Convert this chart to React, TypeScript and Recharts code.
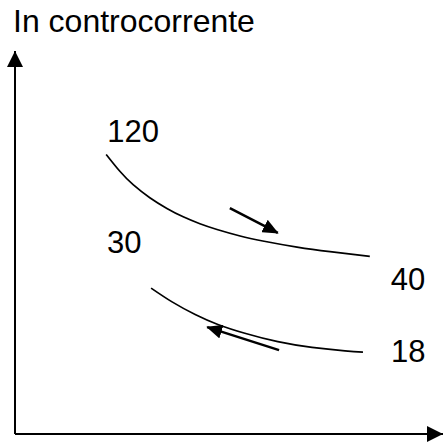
import React from "react";
import { LineChart, Line, XAxis, YAxis, LabelList } from "recharts";

// positions along the exchanger (0-100) and relative temperature (0-100)
const hotX = [21.3, 24.5, 27.6, 31.5, 35.5, 39.3, 43.2, 47.2, 52.6, 57.9, 65.9, 73.6, 82.9];
const hotY = [73.0, 68.6, 65.1, 61.7, 58.9, 56.7, 54.9, 53.4, 51.7, 50.4, 48.8, 47.6, 46.4];
const coldX = [31.8, 36.7, 42.1, 47.4, 53.7, 61.4, 69.4, 77.1, 81.3];
const coldY = [38.1, 34.5, 31.2, 28.6, 26.3, 24.1, 22.6, 21.7, 21.4];

// flow direction arrows (tail -> tip)
const hotArrowX = [50.2, 61.4];
const hotArrowY = [59.0, 52.5];
const coldArrowX = [61.7, 44.9];
const coldArrowY = [21.9, 27.9];

// inlet / outlet temperatures
const hotLabels = ["120", "40"];
const coldLabels = ["30", "18"];

const FONT = "'Liberation Sans', Arial, sans-serif";

function toSeries(xs: number[], ys: number[], labels?: string[]) {
  const last = xs.length - 1;
  return xs.map((x, i) => ({
    x,
    y: ys[i],
    label: labels ? (i === 0 ? labels[0] : i === last ? labels[1] : undefined) : undefined,
  }));
}

const hotData = toSeries(hotX, hotY, hotLabels);
const coldData = toSeries(coldX, coldY, coldLabels);
const hotArrow = toSeries(hotArrowX, hotArrowY);
const coldArrow = toSeries(coldArrowX, coldArrowY);

function makeLabel(startOffset: [number, number], endOffset: [number, number], lastIndex: number) {
  return (props: any) => {
    const { x, y, value, index } = props;
    if (value === undefined || value === null) return null;
    const [dx, dy] = index === lastIndex ? endOffset : startOffset;
    return (
      <text x={x + dx} y={y + dy} fontSize={31} fontFamily={FONT} fill="#000">
        {value}
      </text>
    );
  };
}

export default function App() {
  return (
    <div style={{ position: "absolute", left: 0, top: 0, width: 444, height: 442, background: "#fff" }}>
      <svg width={0} height={0} style={{ position: "absolute" }}>
        <defs>
          <marker
            id="axisHead"
            viewBox="0 0 16 16"
            markerWidth={16}
            markerHeight={16}
            refX={16}
            refY={8}
            orient="auto-start-reverse"
            markerUnits="userSpaceOnUse"
          >
            <path d="M0,0 L16,8 L0,16 z" fill="#000" />
          </marker>
          <marker
            id="flowHead"
            viewBox="0 0 16 14"
            markerWidth={16}
            markerHeight={14}
            refX={15}
            refY={7}
            orient="auto"
            markerUnits="userSpaceOnUse"
          >
            <path d="M0,0 L16,7 L0,14 z" fill="#000" />
          </marker>
        </defs>
      </svg>
      <div
        style={{
          position: "absolute",
          left: 13,
          top: 5,
          fontFamily: FONT,
          fontSize: 32,
          lineHeight: "32px",
          color: "#000",
          whiteSpace: "nowrap",
        }}
      >
        In controcorrente
      </div>
      <LineChart width={444} height={442} margin={{ top: 51, right: 1, bottom: 7, left: 14 }}>
        <XAxis
          type="number"
          dataKey="x"
          domain={[0, 100]}
          tick={false}
          tickLine={false}
          height={1}
          axisLine={{ stroke: "#000", strokeWidth: 2, markerEnd: "url(#axisHead)" }}
        />
        <YAxis
          type="number"
          dataKey="y"
          domain={[0, 100]}
          tick={false}
          tickLine={false}
          width={1}
          axisLine={{ stroke: "#000", strokeWidth: 2, markerStart: "url(#axisHead)" }}
        />
        <Line
          data={hotData}
          dataKey="y"
          type="natural"
          stroke="#000"
          strokeWidth={1.7}
          dot={false}
          activeDot={false}
          isAnimationActive={false}
        >
          <LabelList dataKey="label" content={makeLabel([1, -12], [21, 34], hotData.length - 1)} />
        </Line>
        <Line
          data={coldData}
          dataKey="y"
          type="natural"
          stroke="#000"
          strokeWidth={1.7}
          dot={false}
          activeDot={false}
          isAnimationActive={false}
        >
          <LabelList dataKey="label" content={makeLabel([-44, -35], [28, 10], coldData.length - 1)} />
        </Line>
        <Line
          data={hotArrow}
          dataKey="y"
          type="linear"
          stroke="#000"
          strokeWidth={2.5}
          dot={false}
          activeDot={false}
          markerEnd="url(#flowHead)"
          isAnimationActive={false}
        />
        <Line
          data={coldArrow}
          dataKey="y"
          type="linear"
          stroke="#000"
          strokeWidth={2.5}
          dot={false}
          activeDot={false}
          markerEnd="url(#flowHead)"
          isAnimationActive={false}
        />
      </LineChart>
    </div>
  );
}
